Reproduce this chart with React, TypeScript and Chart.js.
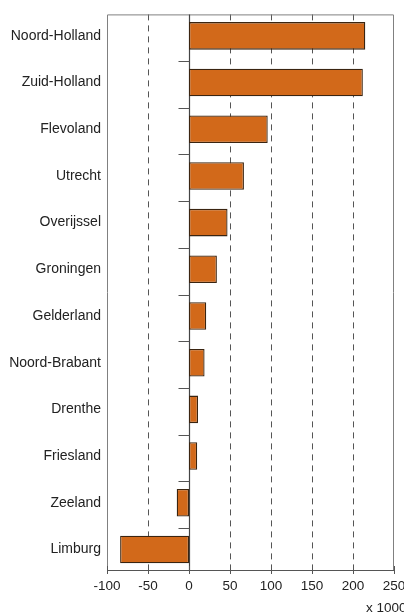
import React, { useEffect, useRef } from "react";
import { Chart, registerables } from "chart.js";

Chart.register(...registerables);

const provinces = [
  "Noord-Holland",
  "Zuid-Holland",
  "Flevoland",
  "Utrecht",
  "Overijssel",
  "Groningen",
  "Gelderland",
  "Noord-Brabant",
  "Drenthe",
  "Friesland",
  "Zeeland",
  "Limburg",
];
const values = [215, 212, 96, 67, 47, 34, 21, 19, 11, 10, -15, -84];
const xMin = -100;
const xMax = 250;
const xStep = 50;
const unitLabel = "x 1000";

const FONT = "'Liberation Sans', Arial, Helvetica, sans-serif";
// index-axis window (category rows, slightly cropped at the bottom as in the source)
const yLow = -0.46;
const yHigh = 11.44;

const decorPlugin = {
  id: "decor",
  beforeDatasetsDraw(chart: any) {
    const { ctx, chartArea, scales } = chart;
    const x = scales.x;
    const y = scales.y;
    ctx.save();
    ctx.strokeStyle = "#555";
    ctx.lineWidth = 1;
    ctx.setLineDash([6, 5]);
    for (let v = xMin + xStep; v < xMax; v += xStep) {
      if (v === 0) continue;
      const px = Math.round(x.getPixelForValue(v)) + 0.5;
      ctx.beginPath();
      ctx.moveTo(px, chartArea.top);
      ctx.lineTo(px, chartArea.bottom);
      ctx.stroke();
    }
    ctx.setLineDash([]);
    ctx.strokeStyle = "#808080";
    ctx.beginPath();
    ctx.moveTo(chartArea.left + 0.5, chartArea.bottom);
    ctx.lineTo(chartArea.left + 0.5, chartArea.top + 0.5);
    ctx.lineTo(chartArea.right - 0.5, chartArea.top + 0.5);
    ctx.lineTo(chartArea.right - 0.5, chartArea.bottom);
    ctx.stroke();
    const zx = Math.round(x.getPixelForValue(0)) + 0.5;
    ctx.strokeStyle = "#444";
    ctx.lineWidth = 1.2;
    ctx.beginPath();
    ctx.moveTo(zx, chartArea.top);
    ctx.lineTo(zx, chartArea.bottom);
    ctx.stroke();
    ctx.strokeStyle = "#555";
    ctx.lineWidth = 1;
    for (let i = 1; i < provinces.length; i++) {
      const py = Math.round(y.getPixelForValue(i + yLow)) + 0.5;
      ctx.beginPath();
      ctx.moveTo(zx - 11, py);
      ctx.lineTo(zx, py);
      ctx.stroke();
    }
    ctx.strokeStyle = "#555";
    ctx.beginPath();
    ctx.moveTo(chartArea.left, chartArea.bottom + 0.5);
    ctx.lineTo(chartArea.right, chartArea.bottom + 0.5);
    ctx.stroke();
    for (let v = xMin; v <= xMax; v += xStep) {
      const px = Math.round(x.getPixelForValue(v)) + 0.5;
      ctx.beginPath();
      ctx.moveTo(px, chartArea.bottom - 4);
      ctx.lineTo(px, chartArea.bottom + 4);
      ctx.stroke();
    }
    ctx.restore();
  },
  afterDraw(chart: any) {
    const { ctx, scales } = chart;
    ctx.save();
    ctx.fillStyle = "#222";
    ctx.font = `13.5px ${FONT}`;
    ctx.textAlign = "left";
    ctx.textBaseline = "alphabetic";
    ctx.fillText(unitLabel, scales.x.right - 28, 612);
    ctx.restore();
  },
};

export default function App() {
  const ref = useRef<HTMLCanvasElement>(null);
  useEffect(() => {
    document.body.style.margin = "0";
    const chart = new Chart(ref.current!, {
      type: "bar",
      data: {
        datasets: [
          {
            data: values.map((v, i) => ({ x: v, y: i })),
            backgroundColor: "#D2691A",
            borderColor: "#3a2410",
            borderWidth: 1.3,
            borderSkipped: false,
            barPercentage: 0.59,
            categoryPercentage: 1,
          },
        ],
      },
      options: {
        indexAxis: "y",
        responsive: false,
        animation: false,
        layout: { padding: { top: 13, right: 10, left: 0, bottom: 0 } },
        plugins: {
          legend: { display: false },
          tooltip: { enabled: false },
        },
        scales: {
          x: {
            type: "linear",
            min: xMin,
            max: xMax,
            ticks: {
              stepSize: xStep,
              color: "#222",
              font: { family: FONT, size: 13.5 },
              padding: 8,
              maxRotation: 0,
            },
            grid: { display: false, drawTicks: false },
            border: { display: false },
            afterFit(scale: any) {
              scale.height = 43;
              scale.paddingRight = 0;
              scale.paddingLeft = 0;
            },
          },
          y: {
            type: "linear",
            reverse: true,
            offset: false,
            min: yLow,
            max: yHigh,
            ticks: {
              stepSize: 1,
              includeBounds: false,
              autoSkip: false,
              color: "#222",
              font: { family: FONT, size: 14 },
              padding: 6,
              callback: (v: any) =>
                Number.isInteger(v) ? provinces[v] ?? "" : "",
            },
            grid: { display: false, drawTicks: false, offset: false },
            border: { display: false },
            afterFit(scale: any) {
              scale.width = 107;
            },
          },
        },
      },
      plugins: [decorPlugin],
    });
    return () => chart.destroy();
  }, []);
  return <canvas ref={ref} width={404} height={613} />;
}
